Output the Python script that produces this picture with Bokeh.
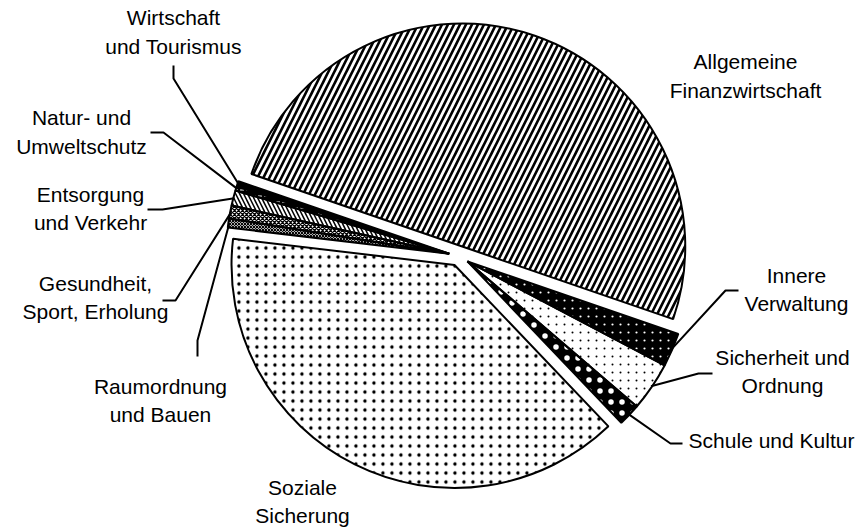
import math
from bokeh.plotting import figure
from bokeh.models import ColumnDataSource, Range1d, CDSView, IndexFilter
from bokeh.embed import file_html
from bokeh.resources import INLINE
from bokeh.core.properties import value

# ---------------- data ----------------
categories = [
    "Allgemeine\nFinanzwirtschaft",
    "Innere\nVerwaltung",
    "Sicherheit und\nOrdnung",
    "Schule und Kultur",
    "Soziale\nSicherung",
    "Raumordnung\nund Bauen",
    "Gesundheit,\nSport, Erholung",
    "Entsorgung\nund Verkehr",
    "Natur- und\nUmweltschutz",
    "Wirtschaft\nund Tourismus",
]
shares = [50.0, 2.45, 3.55, 1.6, 39.0, 0.65, 0.95, 1.1, 0.32, 0.38]

# ---------------- layout / style ----------------
W, H = 858, 529
CX, CY = 458.5, -255.5      # pie centre (x right, y = -row)
R = 223
EXPLODE = 10
START_DEG = 161.0           # first slice starts here and runs clockwise
groups = [0, 1, 1, 1, 2, 3, 3, 3, 3, 3]

fills = ["white", "black", "white", "black", "white", "white", "white", "white", "black", "black"]
hatches = ["right_diagonal_line", "dot", "dot", "dot", "dot",
           "diagonal_cross", "diagonal_cross", "left_diagonal_line", "horizontal_dash", "blank"]
hcolors = ["black", "white", "black", "white", "black", "black", "black", "black", "white", "black"]
hscales = [12, 8, 8, 11, 9, 3, 4, 8, 6, 6]
hweights = [2.6, 1, 1, 1, 1, 1.2, 1.3, 1.5, 1, 1]
# ring overlays shrink the built-in dots to small points
ring_colors = [None, "black", "white", None, "white", None, None, None, None, None]
ring_weights = [0, 1.8, 2.0, 0, 1.0, 0, 0, 0, 0, 0]

label_pos = [(745, 75.5), (796, 289), (782, 371), (771, 440), (302, 501),
             (160, 400), (95, 297), (90, 208), (81, 131.5), (173, 31.5)]
leader_start = [None, [(738, 290), (725, 290)], [(712, 373), (698, 373)],
                [(682, 443), (670, 443)], None, [(197, 356), (197, 340)],
                [(162, 300), (175, 300)], [(147, 209), (162, 209)],
                [(150, 132), (163, 132)], [(173, 65), (173, 78)]]

# ---------------- geometry from data ----------------
hi, lo = [], []
cum = 0.0
for s in shares:
    a_hi = START_DEG - cum * 3.6
    a_lo = a_hi - s * 3.6
    hi.append(a_hi)
    lo.append(a_lo)
    cum += s

gmid = {}
for g in set(groups):
    idx = [i for i, gg in enumerate(groups) if gg == g]
    gmid[g] = (max(hi[i] for i in idx) + min(lo[i] for i in idx)) / 2.0

xs, ys = [], []
for i in range(len(shares)):
    m = math.radians(gmid[groups[i]])
    xs.append(CX + EXPLODE * math.cos(m))
    ys.append(CY + EXPLODE * math.sin(m))

src = ColumnDataSource(dict(
    x=xs, y=ys,
    start=[math.radians(a) for a in lo],
    end=[math.radians(a) for a in hi],
))

p = figure(width=W, height=H, x_range=Range1d(0, W), y_range=Range1d(-H, 0),
           output_backend="svg", toolbar_location=None, min_border=0)
p.axis.visible = False
p.grid.visible = False
p.outline_line_color = None
p.background_fill_color = "white"
p.border_fill_color = "white"

common = dict(x="x", y="y", radius=R, start_angle="start", end_angle="end", source=src)

# pass 1: fill + hatch
for i in range(len(shares)):
    p.wedge(view=CDSView(filter=IndexFilter([i])), fill_color=fills[i], line_color=None,
            hatch_pattern=hatches[i], hatch_color=hcolors[i], hatch_scale=hscales[i],
            hatch_weight=hweights[i], **common)

# pass 2: ring overlays
for i in range(len(shares)):
    if ring_colors[i] is None:
        continue
    p.wedge(view=CDSView(filter=IndexFilter([i])), fill_color=None, line_color=None,
            hatch_pattern="ring", hatch_color=ring_colors[i], hatch_scale=hscales[i],
            hatch_weight=ring_weights[i], **common)

# pass 3: outlines
p.wedge(fill_color=None, line_color="black", line_width=2, **common)

# leader lines: label side points (layout) + arc mid-point computed from data
lx, ly = [], []
for i, pts in enumerate(leader_start):
    if pts is None:
        continue
    m = math.radians((hi[i] + lo[i]) / 2.0)
    ex = xs[i] + (R - 1) * math.cos(m)
    ey = ys[i] + (R - 1) * math.sin(m)
    lx.append([q[0] for q in pts] + [ex])
    ly.append([-q[1] for q in pts] + [ey])
p.multi_line(xs=lx, ys=ly, line_color="black", line_width=2)

tsrc = ColumnDataSource(dict(
    x=[q[0] for q in label_pos], y=[-q[1] for q in label_pos], text=categories))
p.text(x="x", y="y", text="text", source=tsrc, text_font=value("Liberation Sans"),
       text_font_size="21px", text_align="center", text_baseline="middle",
       text_color="black", text_line_height=1.25)

open("out.html", "w").write(file_html(p, INLINE))
